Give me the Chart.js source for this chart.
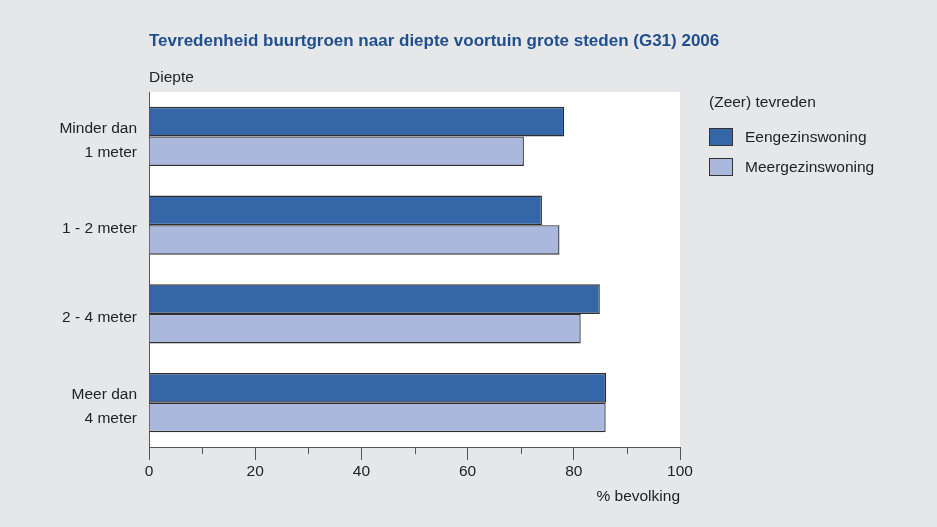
<!DOCTYPE html>
<html lang="nl">
<head>
  <meta charset="UTF-8" />
  <title>Tevredenheid buurtgroen</title>
  <script src="https://cdn.jsdelivr.net/npm/chart.js"></script>
  <style>
    * { box-sizing: border-box; }
    body {
      margin: 0;
      background: #e6e7e9;
      font-family: 'Liberation Sans', Arial, sans-serif;
      color: #222;
    }
    .wrap {
      position: relative;
      width: 937px;
      height: 527px;
    }
    canvas { position: absolute; left: 0; top: 0; }
    .title {
      position: absolute; left: 149px; top: 31px;
      font-size: 17px; font-weight: bold; color: #1f4f8f;
      white-space: nowrap;
    }
    .ylabel {
      position: absolute; left: 149px; top: 68px;
      font-size: 15.5px;
    }
    .legend {
      position: absolute; left: 709px; top: 93px;
      font-size: 15.5px;
    }
    .legend .head { margin-bottom: 17px; }
    .legend .item { display: flex; align-items: center; height: 18px; margin-bottom: 12px; }
    .legend .box {
      width: 24px; height: 18px; margin-right: 12px;
      border: 1px solid #333;
    }
  </style>
</head>
<body>
  <div class="wrap">
    <canvas id="chart" width="937" height="527"></canvas>
    <div class="title">Tevredenheid buurtgroen naar diepte voortuin grote steden (G31) 2006</div>
    <div class="ylabel">Diepte</div>
    <div class="legend">
      <div class="head">(Zeer) tevreden</div>
      <div id="legend-items"></div>
    </div>
  </div>

<script>
  // data
  const categories = [['Minder dan', '1 meter'], '1 - 2 meter', '2 - 4 meter', ['Meer dan', '4 meter']];
  const eengezins = [78.2, 74.0, 84.9, 86.1];
  const meergezins = [70.6, 77.3, 81.3, 86.0];
  const seriesNames = ['Eengezinswoning', 'Meergezinswoning'];
  const seriesColors = ['#3566a8', '#abb8de'];

  const FONT = "'Liberation Sans', Arial, sans-serif";

  // legend in html
  const legendEl = document.getElementById('legend-items');
  seriesNames.forEach((name, i) => {
    const d = document.createElement('div');
    d.className = 'item';
    d.innerHTML = `<span class="box" style="background:${seriesColors[i]}"></span>${name}`;
    legendEl.appendChild(d);
  });

  // white plot area + minor ticks on x axis
  const plotBg = {
    id: 'plotBg',
    beforeDraw(chart) {
      const { ctx, chartArea: a } = chart;
      ctx.save();
      ctx.fillStyle = '#ffffff';
      ctx.fillRect(a.left, a.top, a.right - a.left, a.bottom - a.top);
      ctx.restore();
    },
    afterDraw(chart) {
      const { ctx, chartArea: a } = chart;
      const x = chart.scales.x;
      ctx.save();
      ctx.strokeStyle = '#555';
      ctx.lineWidth = 1;
      [10, 30, 50, 70, 90].forEach(v => {
        const px = Math.round(x.getPixelForValue(v)) + 0.5;
        ctx.beginPath();
        ctx.moveTo(px, a.bottom);
        ctx.lineTo(px, a.bottom + 7);
        ctx.stroke();
      });
      ctx.restore();
    }
  };

  new Chart(document.getElementById('chart'), {
    type: 'bar',
    data: {
      labels: categories,
      datasets: [
        { label: seriesNames[0], data: eengezins, backgroundColor: seriesColors[0], borderColor: '#2e2e2e', borderWidth: 1.3 },
        { label: seriesNames[1], data: meergezins, backgroundColor: seriesColors[1], borderColor: '#2e2e2e', borderWidth: 1.3 }
      ]
    },
    options: {
      indexAxis: 'y',
      responsive: false,
      animation: false,
      layout: { padding: { left: 0, right: 257, top: 92, bottom: 0 } },
      datasets: { bar: { categoryPercentage: 0.665, barPercentage: 1 } },
      plugins: {
        legend: { display: false },
        tooltip: { enabled: false }
      },
      scales: {
        x: {
          min: 0, max: 100,
          afterFit: s => { s.height = 80; },
          ticks: {
            stepSize: 10,
            color: '#222',
            padding: 2,
            font: { family: FONT, size: 15.5 },
            callback: v => (v % 20 === 0 ? v : '')
          },
          grid: {
            drawOnChartArea: false,
            tickLength: 13,
            color: c => (c.tick && c.tick.value % 20 === 0 ? '#555' : 'rgba(0,0,0,0)')
          },
          border: { display: true, color: '#555', width: 1 },
          title: {
            display: true,
            text: '% bevolking',
            align: 'end',
            color: '#222',
            font: { family: FONT, size: 15.5 },
            padding: { top: 0, bottom: 21 }
          }
        },
        y: {
          afterFit: s => { s.width = 149; },
          ticks: {
            color: '#222',
            padding: 12,
            labelOffset: 4,
            font: { family: FONT, size: 15.5, lineHeight: 1.55 }
          },
          grid: { display: false, drawTicks: false },
          border: { display: true, color: '#555', width: 1 }
        }
      }
    },
    plugins: [plotBg]
  });
</script>
</body>
</html>
